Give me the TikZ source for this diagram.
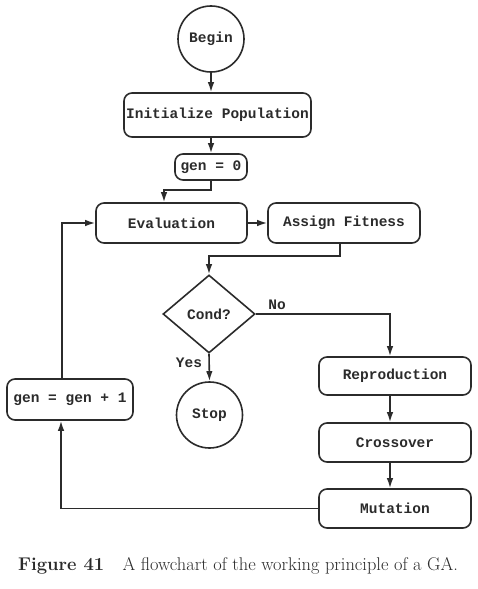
\documentclass[tikz,border=0pt]{standalone}
\usepackage{fontspec}
\newfontfamily\monoft{Liberation Mono}
\usetikzlibrary{shapes.geometric,arrows.meta}
\definecolor{ink}{HTML}{2B2B2B}
\tikzset{
  box/.style={draw=ink, rounded corners=8pt, inner sep=0pt, text=ink,
    font=\monoft\bfseries\fontsize{14.5}{16}\selectfont},
  roundnode/.style={draw=ink, circle, inner sep=0pt, minimum size=66pt, text=ink,
    font=\monoft\bfseries\fontsize{14.5}{16}\selectfont},
  decision/.style={draw=ink, diamond, inner sep=0pt, minimum width=92pt, minimum height=78pt, text=ink,
    font=\monoft\bfseries\fontsize{14.5}{16}\selectfont},
  lbl/.style={text=ink, inner sep=0pt, font=\monoft\bfseries\fontsize{14.5}{16}\selectfont},
  arr/.style={draw=ink, -{Latex[length=10pt,width=6.5pt]}},
  ln/.style={draw=ink}
}
\begin{document}
\begin{tikzpicture}[x=1pt,y=-1pt,line width=1.6pt]
\useasboundingbox[fill=white] (0,0) rectangle (477,589);
\node[roundnode] (begin) at (211,39) {Begin};
\node[box, minimum width=187pt, minimum height=44pt] (init) at (217.5,115) {Initialize Population};
\node[box, minimum width=72pt, minimum height=26pt] (gen0) at (211,167) {gen = 0};
\node[box, minimum width=151pt, minimum height=40pt] (eval) at (171.5,223) {Evaluation};
\node[box, minimum width=152pt, minimum height=40pt] (assign) at (344,223) {Assign Fitness};
\node[decision] (cond) at (209,314) {Cond?};
\node[roundnode] (stop) at (209.5,415) {Stop};
\node[box, minimum width=126pt, minimum height=41pt] (genp) at (70,399.5) {gen = gen + 1};
\node[box, minimum width=152pt, minimum height=38pt] (repro) at (395,376) {Reproduction};
\node[box, minimum width=152pt, minimum height=39pt] (cross) at (395,442.5) {Crossover};
\node[box, minimum width=152pt, minimum height=39pt] (mut) at (395,508.5) {Mutation};
\node[lbl] (no) at (277,305) {No};
\node[lbl] (yes) at (189,363) {Yes};
\coordinate (j1) at (164,190);
\coordinate (j2) at (340,256);
\coordinate (j3) at (390,315);
\coordinate (j4) at (61,507);
\coordinate (j5) at (62,223);
\draw[arr] (begin.south) -- (begin.south |- init.north);
\draw[arr] (gen0.north |- init.south) -- (gen0.north);
\draw[arr] (gen0.south) |- (j1) -- (j1 |- eval.north);
\draw[arr] (eval.east) -- (assign.west);
\draw[arr] (j2 |- assign.south) -- (j2) -| (cond.north);
\draw[arr] (cond.east) -| (j3 |- repro.north);
\draw[arr] (cond.south) -- (stop.north);
\draw[arr] (repro.south -| j3) -- (cross.north -| j3);
\draw[arr] (cross.south -| j3) -- (mut.north -| j3);
\draw[arr] (mut.west) -| (j4 |- genp.south);
\draw[arr] (j5 |- genp.north) -- (j5) -- (eval.west);
\node[text=ink, inner sep=0pt, font=\fontsize{18.4}{21}\selectfont] (cap) at (238,566)
  {\textbf{Figure 41}\quad A flowchart of the working principle of a GA.};
\end{tikzpicture}
\end{document}
